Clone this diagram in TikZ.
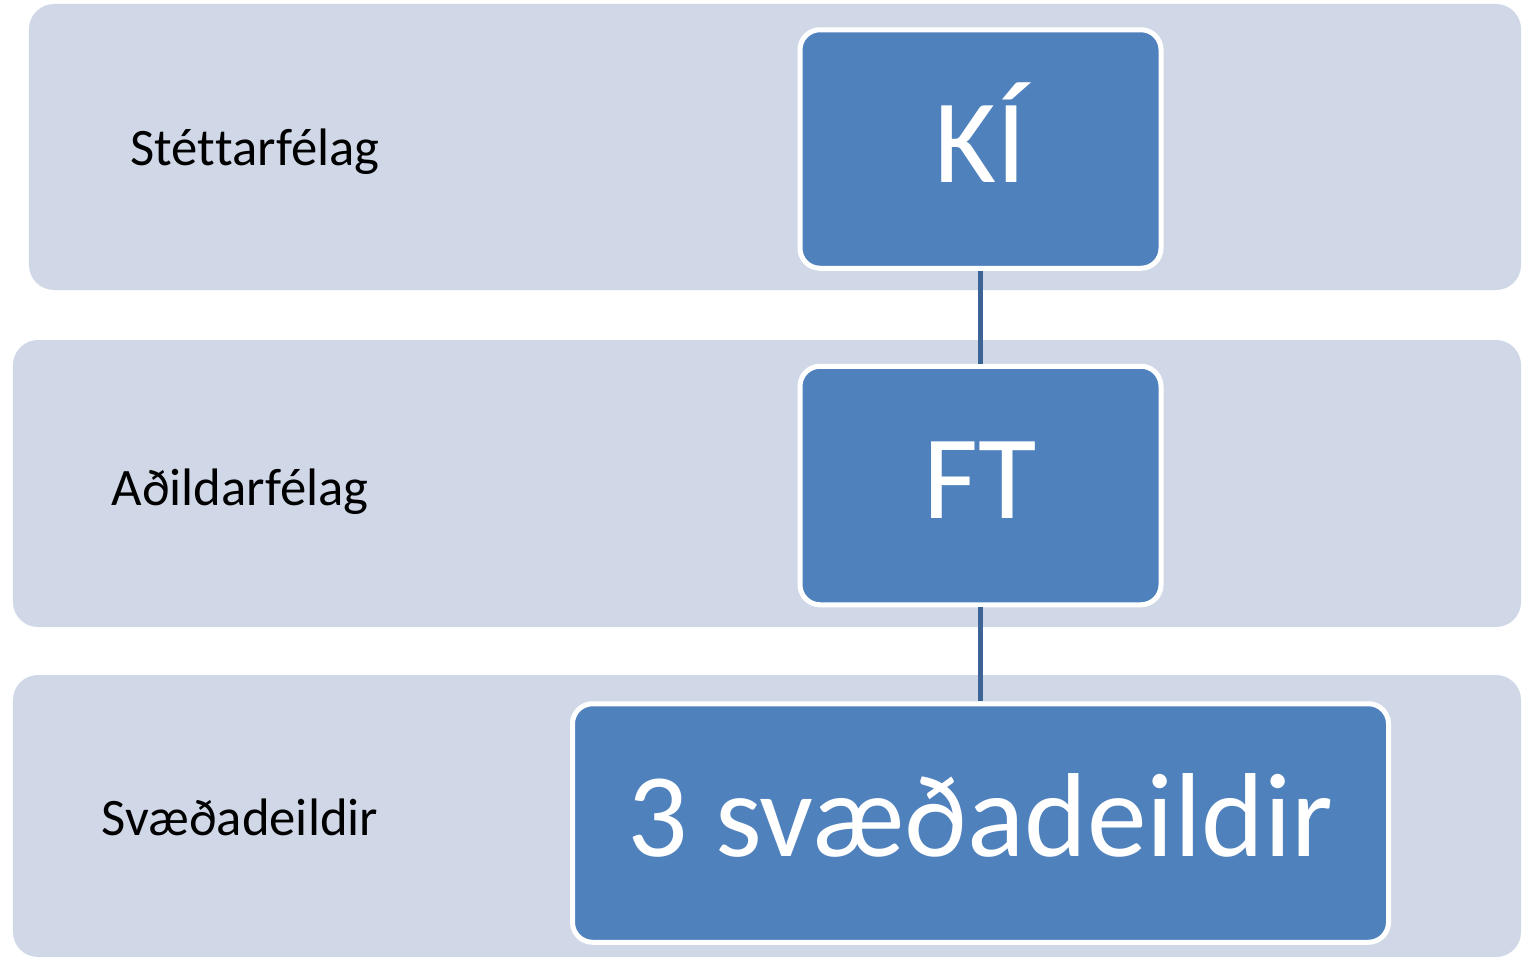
\documentclass[tikz,border=0pt]{standalone}
\usepackage{fontspec}
\setmainfont{Carlito}[Ligatures={NoCommon,NoContextual},Contextuals={NoAlternate}]
\usetikzlibrary{positioning}
\definecolor{tierfill}{HTML}{D0D8E8}
\definecolor{unitfill}{HTML}{4F81BD}
\definecolor{linkblue}{HTML}{3C6496}
\tikzset{
    tier/.style={
    rectangle,rounded corners=5mm,fill=tierfill,inner sep=0pt
    },
    tierlabel/.style={
    anchor=base,text=black,font=\fontsize{30}{36}\selectfont
    },
    unit/.style={
    rectangle,rounded corners=4mm,draw=white,line width=1mm,fill=unitfill,text=white,
    inner sep=0pt,minimum height=47.7mm,text height=14mm,text depth=0.8mm,
    font=\fontsize{68}{80}\selectfont
    },
    link/.style={
    draw=linkblue,line width=1mm
    },
}
\begin{document}
\begin{tikzpicture}[x=0.2mm, y=-0.2mm, node distance=67.3mm, on grid]
   \useasboundingbox (0,0) rectangle (1522,958);
   % tiers
   \node[tier,minimum width=298.4mm,minimum height=57.2mm] (t1) at (775,147) {};
   \node[tier,minimum width=301.6mm,minimum height=57.4mm] (t2) at (767,483.5) {};
   \node[tier,minimum width=301.6mm,minimum height=56.4mm] (t3) at (767,816) {};
   \node[tierlabel] (l1) at (255,165) {Stét\kern0pt tarfélag};
   \node[tierlabel] (l2) at (240,505) {Aðildarfélag};
   \node[tierlabel] (l3) at (240,835) {Svæðadeildir};
   % units
   \node[unit,minimum width=72.2mm] (KI) at (980.5,149) {KÍ};
   \node[unit,minimum width=72.2mm,below=of KI] (FT) {FT};
   \node[unit,minimum width=163.2mm,below=of FT,yshift=-0.2mm] (SD) {3 svæðadeildir};

  \path[link]
    (KI) edge (FT)
    (FT) edge (SD);
\end{tikzpicture}
\end{document}
